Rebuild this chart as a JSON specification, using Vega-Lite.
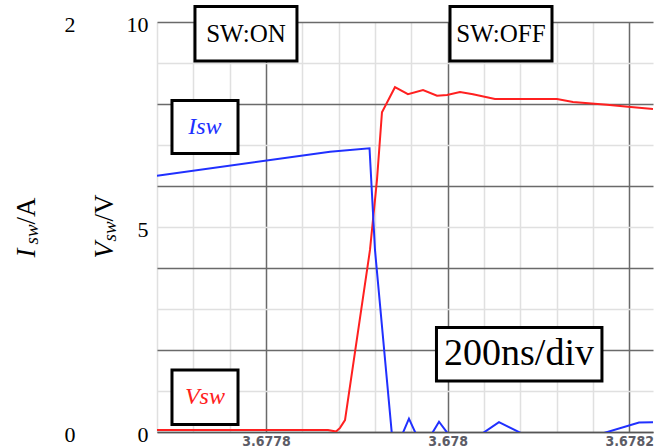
{
  "$schema": "https://vega.github.io/schema/vega-lite/v6.json",
  "width": 496,
  "height": 410,
  "autosize": {"type": "none"},
  "padding": {"left": 157, "top": 22, "right": 11, "bottom": 16},
  "background": "white",
  "config": {
    "view": {"stroke": null},
    "axis": {"labelFont": "Liberation Serif", "titleFont": "Liberation Serif", "titleFontWeight": "normal", "titleColor": "black", "labelColor": "black"}
  },
  "datasets": {
    "vsw": [
      {"t": 3.67768, "v": 0.05},
      {"t": 3.6778683, "v": 0.05},
      {"t": 3.6778771, "v": 0.01},
      {"t": 3.6778815, "v": 0.10},
      {"t": 3.677887, "v": 0.29},
      {"t": 3.6779145, "v": 4.44},
      {"t": 3.6779222, "v": 6.15},
      {"t": 3.6779277, "v": 7.80},
      {"t": 3.677942, "v": 8.41},
      {"t": 3.6779563, "v": 8.24},
      {"t": 3.6779729, "v": 8.34},
      {"t": 3.6779883, "v": 8.20},
      {"t": 3.6779993, "v": 8.22},
      {"t": 3.6780136, "v": 8.29},
      {"t": 3.6780279, "v": 8.24},
      {"t": 3.6780521, "v": 8.12},
      {"t": 3.6781204, "v": 8.12},
      {"t": 3.678138, "v": 8.05},
      {"t": 3.6781754, "v": 7.98},
      {"t": 3.6781986, "v": 7.93},
      {"t": 3.6782261, "v": 7.88}
    ],
    "isw": [
      {"t": 3.67768, "i": 1.25},
      {"t": 3.6778705, "i": 1.367},
      {"t": 3.677914, "i": 1.384},
      {"t": 3.67792, "i": 0.888},
      {"t": 3.6779387, "i": -0.015},
      {"t": 3.6779497, "i": -0.015},
      {"t": 3.6779574, "i": 0.065},
      {"t": 3.6779657, "i": -0.015},
      {"t": 3.6779817, "i": -0.015},
      {"t": 3.6779905, "i": 0.05},
      {"t": 3.6780015, "i": -0.015},
      {"t": 3.6780356, "i": -0.015},
      {"t": 3.6780565, "i": 0.048},
      {"t": 3.6780852, "i": -0.015},
      {"t": 3.6781644, "i": -0.015},
      {"t": 3.6782107, "i": 0.046},
      {"t": 3.6782261, "i": 0.047}
    ],
    "boxes": [
      {"t1": 3.6777218, "t2": 3.6778341, "v1": 9.049, "v2": 10.378},
      {"t1": 3.6780026, "t2": 3.6781149, "v1": 9.049, "v2": 10.378},
      {"t1": 3.6776965, "t2": 3.6777692, "v1": 6.793, "v2": 8.085},
      {"t1": 3.6776965, "t2": 3.6777692, "v1": 0.183, "v2": 1.512},
      {"t1": 3.6779877, "t2": 3.6781699, "v1": 1.244, "v2": 2.549}
    ],
    "swlabels": [
      {"t": 3.677778, "v": 9.71, "label": "SW:ON"},
      {"t": 3.6780587, "v": 9.71, "label": "SW:OFF"}
    ],
    "divlabel": [
      {"t": 3.6780786, "v": 1.90, "label": "200ns/div"}
    ],
    "ilabel": [
      {"t": 3.6777328, "v": 7.44, "label": "Isw"}
    ],
    "vlabel": [
      {"t": 3.6777328, "v": 0.85, "label": "Vsw"}
    ]
  },
  "resolve": {"scale": {"y": "independent"}, "axis": {"y": "independent"}},
  "layer": [
    {
      "data": {"name": "vsw"},
      "mark": {"type": "line", "color": "#ff2020", "strokeWidth": 2, "clip": true},
      "encoding": {
        "x": {
          "field": "t", "type": "quantitative",
          "scale": {"domain": [3.67768, 3.6782261], "nice": false, "zero": false},
          "axis": {
            "values": [3.67768, 3.67772, 3.67776, 3.6778, 3.67784, 3.67788, 3.67792, 3.67796, 3.678, 3.67804, 3.67808, 3.67812, 3.67816, 3.6782],
            "tickCount": 100,
            "grid": true,
            "gridColor": {"condition": {"test": "indexof([3.6778, 3.678, 3.6782], datum.value) >= 0", "value": "#6a6a6a"}, "value": "#e0e0e0"},
            "gridWidth": 1.5,
            "labelExpr": "indexof([3.6778, 3.678, 3.6782], datum.value) >= 0 ? format(datum.value, '.4~f') : ''",
            "labelFont": "Liberation Sans Narrow, DejaVu Sans Condensed, Liberation Sans",
            "labelFontSize": 14,
            "labelFontWeight": "bold",
            "labelColor": "#5c5c66",
            "labelPadding": 2,
            "labelFlush": false,
            "labelOverlap": false,
            "ticks": false,
            "tickSize": 0,
            "domain": true,
            "domainColor": "#555555",
            "domainWidth": 1.5,
            "title": "/V",
            "titleFontSize": 27,
            "titleAngle": 270,
            "titleAlign": "left",
            "titleBaseline": "alphabetic",
            "titleX": -45,
            "titleY": -211
          }
        },
        "y": {
          "field": "v", "type": "quantitative",
          "scale": {"domain": [0, 10], "nice": false, "zero": false},
          "axis": {
            "orient": "left",
            "values": [0, 1, 2, 3, 4, 5, 6, 7, 8, 9, 10],
            "tickCount": 100,
            "format": "d",
            "grid": true,
            "gridColor": {"condition": {"test": "datum.value % 2 === 0", "value": "#6a6a6a"}, "value": "#e0e0e0"},
            "gridWidth": 1.5,
            "labelExpr": "datum.value % 5 === 0 ? format(datum.value, 'd') : ''",
            "labelFontSize": 22,
            "labelPadding": 9,
            "labelOffset": 2,
            "labelFlush": false,
            "labelOverlap": false,
            "ticks": false,
            "tickSize": 0,
            "domain": false,
            "title": "V",
            "titleFontStyle": "italic",
            "titleFontSize": 27,
            "titleAngle": 270,
            "titleAlign": "left",
            "titleBaseline": "alphabetic",
            "titleX": -45,
            "titleY": 236
          }
        }
      }
    },
    {
      "data": {"name": "isw"},
      "mark": {"type": "line", "color": "#2030ff", "strokeWidth": 2, "clip": true},
      "encoding": {
        "x": {"field": "t", "type": "quantitative", "scale": {"domain": [3.67768, 3.6782261], "nice": false, "zero": false}},
        "y": {
          "field": "i", "type": "quantitative",
          "scale": {"domain": [0, 2], "nice": false, "zero": false},
          "axis": {
            "orient": "left",
            "offset": 75,
            "values": [0, 1, 2],
            "format": "d",
            "grid": false,
            "ticks": false,
            "tickSize": 0,
            "domain": false,
            "labelFontSize": 22,
            "labelPadding": 7,
            "labelOffset": 2,
            "labelFlush": false,
            "labelOverlap": false,
            "title": null
          }
        }
      }
    },
    {
      "data": {"name": "boxes"},
      "mark": {"type": "rect", "fill": "white", "stroke": "black", "strokeWidth": 3},
      "encoding": {
        "x": {"field": "t1", "type": "quantitative", "scale": {"domain": [3.67768, 3.6782261], "nice": false, "zero": false}},
        "x2": {"field": "t2"},
        "y": {
          "field": "v1", "type": "quantitative",
          "scale": {"domain": [0, 10], "nice": false, "zero": false},
          "axis": {
            "orient": "left", "labels": false, "ticks": false, "domain": false, "grid": false,
            "title": "sw", "titleFontStyle": "italic", "titleFontSize": 19,
            "titleAngle": 270, "titleAlign": "left", "titleBaseline": "alphabetic",
            "titleX": -42, "titleY": 219
          }
        },
        "y2": {"field": "v2"}
      }
    },
    {
      "data": {"name": "swlabels"},
      "mark": {"type": "text", "font": "Liberation Serif", "fontSize": 25, "color": "black", "align": "center", "baseline": "middle"},
      "encoding": {
        "x": {"field": "t", "type": "quantitative", "scale": {"domain": [3.67768, 3.6782261], "nice": false, "zero": false}},
        "y": {
          "field": "v", "type": "quantitative",
          "scale": {"domain": [0, 10], "nice": false, "zero": false},
          "axis": {
            "orient": "left", "labels": false, "ticks": false, "domain": false, "grid": false,
            "title": "I", "titleFontStyle": "italic", "titleFontSize": 27,
            "titleAngle": 270, "titleAlign": "left", "titleBaseline": "alphabetic",
            "titleX": -123, "titleY": 235
          }
        },
        "text": {"field": "label"}
      }
    },
    {
      "data": {"name": "divlabel"},
      "mark": {"type": "text", "font": "Liberation Serif", "fontSize": 38, "color": "black", "align": "center", "baseline": "middle"},
      "encoding": {
        "x": {"field": "t", "type": "quantitative", "scale": {"domain": [3.67768, 3.6782261], "nice": false, "zero": false}},
        "y": {
          "field": "v", "type": "quantitative",
          "scale": {"domain": [0, 10], "nice": false, "zero": false},
          "axis": {
            "orient": "left", "labels": false, "ticks": false, "domain": false, "grid": false,
            "title": "sw", "titleFontStyle": "italic", "titleFontSize": 19,
            "titleAngle": 270, "titleAlign": "left", "titleBaseline": "alphabetic",
            "titleX": -120, "titleY": 222
          }
        },
        "text": {"field": "label"}
      }
    },
    {
      "data": {"name": "ilabel"},
      "mark": {"type": "text", "font": "Liberation Serif", "fontStyle": "italic", "fontSize": 24, "color": "#2030ff", "align": "center", "baseline": "middle"},
      "encoding": {
        "x": {"field": "t", "type": "quantitative", "scale": {"domain": [3.67768, 3.6782261], "nice": false, "zero": false}},
        "y": {
          "field": "v", "type": "quantitative",
          "scale": {"domain": [0, 10], "nice": false, "zero": false},
          "axis": {
            "orient": "left", "labels": false, "ticks": false, "domain": false, "grid": false,
            "title": "/A", "titleFontSize": 27,
            "titleAngle": 270, "titleAlign": "left", "titleBaseline": "alphabetic",
            "titleX": -123, "titleY": 202
          }
        },
        "text": {"field": "label"}
      }
    },
    {
      "data": {"name": "vlabel"},
      "mark": {"type": "text", "font": "Liberation Serif", "fontStyle": "italic", "fontSize": 24, "color": "#ff2020", "align": "center", "baseline": "middle"},
      "encoding": {
        "x": {"field": "t", "type": "quantitative", "scale": {"domain": [3.67768, 3.6782261], "nice": false, "zero": false}},
        "y": {
          "field": "v", "type": "quantitative",
          "scale": {"domain": [0, 10], "nice": false, "zero": false},
          "axis": null
        },
        "text": {"field": "label"}
      }
    }
  ]
}
